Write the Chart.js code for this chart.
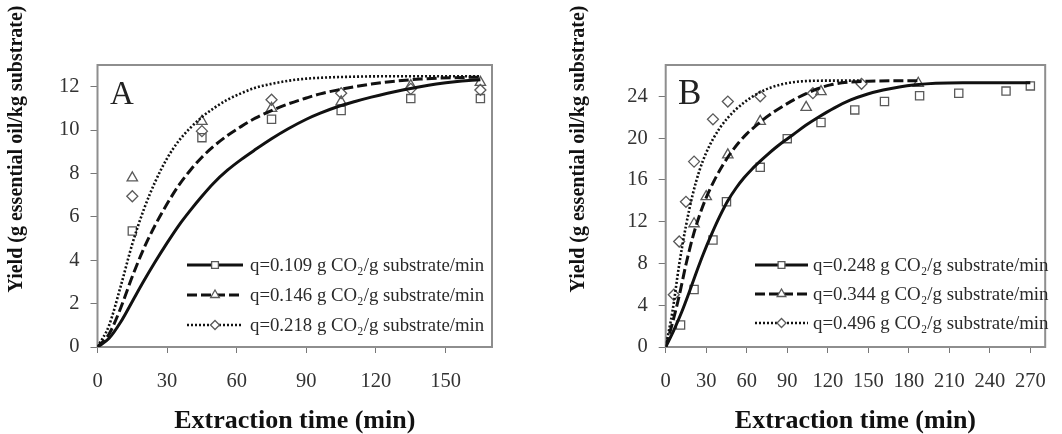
<!DOCTYPE html>
<html><head><meta charset="utf-8">
<script src="https://cdn.jsdelivr.net/npm/chart.js@4.4.0/dist/chart.umd.min.js"></script>
<style>
html,body{margin:0;padding:0;background:#fff;}
#wrap{position:relative;width:1062px;height:434px;overflow:hidden;background:#fff;}
.c{position:absolute;top:0;width:531px;height:434px;}
</style></head><body>
<div id="wrap">
<div class="c" style="left:0"><canvas id="cA" width="531" height="434"></canvas></div>
<div class="c" style="left:531px"><canvas id="cB" width="531" height="434"></canvas></div>
</div>
<script>
// ---------- Panel A data ----------
const seriesNamesA = ['q=0.109 g CO\u2082/g substrate/min', 'q=0.146 g CO\u2082/g substrate/min', 'q=0.218 g CO\u2082/g substrate/min'];
const timeA_exp = [15, 45, 75, 105, 135, 165];
const yieldA_q109 = [5.35, 9.65, 10.5, 10.9, 11.45, 11.45];
const yieldA_q146 = [7.8, 10.4, 11.0, 11.3, 12.05, 12.2];
const yieldA_q218 = [6.95, 9.95, 11.4, 11.7, 11.9, 11.85];
const timeA_model_q109 = [0, 5, 10, 15, 20, 25, 30, 35, 40, 45, 50, 56, 62, 68, 75, 82, 90, 96, 104, 111, 118, 125, 132, 139, 146, 154, 160, 165];
const modelA_q109 = [0, 0.4, 1.15, 2.1, 3.05, 3.95, 4.8, 5.6, 6.3, 6.95, 7.55, 8.15, 8.65, 9.1, 9.6, 10.05, 10.5, 10.78, 11.1, 11.32, 11.52, 11.7, 11.86, 12.0, 12.12, 12.23, 12.29, 12.32];
const timeA_model_q146 = [0, 5, 10, 15, 20, 25, 30, 35, 40, 45, 50, 56, 62, 68, 75, 82, 90, 96, 104, 111, 118, 125, 139, 152, 165];
const modelA_q146 = [0, 0.6, 1.8, 3.25, 4.55, 5.65, 6.6, 7.45, 8.15, 8.75, 9.25, 9.75, 10.17, 10.55, 10.9, 11.2, 11.48, 11.67, 11.86, 12.0, 12.12, 12.22, 12.35, 12.41, 12.44];
const timeA_model_q218 = [0, 5, 10, 15, 20, 25, 30, 35, 40, 45, 50, 56, 62, 68, 75, 82, 90, 100, 110, 125, 165];
const modelA_q218 = [0, 1.0, 2.8, 4.75, 6.35, 7.65, 8.7, 9.5, 10.1, 10.6, 11.0, 11.4, 11.7, 11.95, 12.13, 12.27, 12.37, 12.43, 12.46, 12.48, 12.48];
const xTicksA = [0, 30, 60, 90, 120, 150];
const yTicksA = [0, 2, 4, 6, 8, 10, 12];

// ---------- Panel B data ----------
const seriesNamesB = ['q=0.248 g CO\u2082/g substrate/min', 'q=0.344 g CO\u2082/g substrate/min', 'q=0.496 g CO\u2082/g substrate/min'];
const timeB_q248 = [11, 21, 35, 45, 70, 90, 115, 140, 162, 188, 217, 252, 270];
const yieldB_q248 = [2.1, 5.5, 10.25, 13.9, 17.2, 19.95, 21.5, 22.7, 23.5, 24.05, 24.3, 24.5, 25.0];
const timeB_q344 = [21, 30, 46, 70, 104, 115, 187];
const yieldB_q344 = [11.8, 14.4, 18.4, 21.6, 22.95, 24.45, 25.25];
const timeB_q496 = [6, 10, 15, 21, 35, 46, 70, 109, 145];
const yieldB_q496 = [5.0, 10.1, 13.9, 17.75, 21.8, 23.5, 24.0, 24.3, 25.2];
const timeB_model_q248 = [0, 6, 12, 17, 22, 28, 34, 40, 46, 52, 58, 64, 70, 76, 82, 88, 94, 104, 113, 125, 137, 149, 161, 173, 185, 200, 220, 270];
const modelB_q248 = [0, 1.6, 3.4, 5.1, 6.9, 8.95, 10.8, 12.5, 14.0, 15.2, 16.2, 17.05, 17.8, 18.5, 19.15, 19.75, 20.3, 21.25, 22.0, 22.9, 23.65, 24.2, 24.6, 24.9, 25.1, 25.25, 25.3, 25.3];
const timeB_model_q344 = [0, 5, 10, 15, 20, 25, 30, 36, 42, 48, 54, 60, 66, 72, 80, 88, 96, 104, 112, 122, 135, 150, 187];
const modelB_q344 = [0, 2.3, 4.9, 7.9, 10.5, 12.6, 14.3, 15.95, 17.35, 18.55, 19.55, 20.4, 21.1, 21.75, 22.5, 23.15, 23.75, 24.25, 24.7, 25.1, 25.35, 25.45, 25.5];
const timeB_model_q496 = [0, 5, 10, 15, 20, 25, 30, 35, 40, 46, 52, 58, 64, 70, 78, 86, 94, 105, 120, 145];
const modelB_q496 = [0, 3.4, 7.9, 11.6, 14.6, 16.9, 18.6, 19.9, 20.95, 21.95, 22.75, 23.4, 23.95, 24.4, 24.85, 25.15, 25.35, 25.47, 25.5, 25.5];
const xTicksB = [0, 30, 60, 90, 120, 150, 180, 210, 240, 270];
const yTicksB = [0, 4, 8, 12, 16, 20, 24];

const yTitle = 'Yield (g essential oil/kg substrate)';
const xTitle = 'Extraction time (min)';

// ---------- helpers ----------
const SERIF = "'Liberation Serif', 'Times New Roman', serif";
function pts(xs, ys) { return xs.map((x, i) => ({ x: x, y: ys[i] })); }
const lineStyles = [
  { borderDash: [], borderWidth: 3 },
  { borderDash: [10, 4], borderWidth: 3 },
  { borderDash: [2, 2], borderWidth: 2.6 }
];
const markerStyles = [
  { pointStyle: 'rect', pointRadius: 5.8 },
  { pointStyle: 'triangle', pointRadius: 6 },
  { pointStyle: 'rectRot', pointRadius: 5.5 }
];

function lineDs(label, xs, ys, k) {
  return {
    label: label, data: pts(xs, ys), showLine: true, pointRadius: 0, pointHoverRadius: 0,
    borderColor: '#111', backgroundColor: '#111', borderWidth: lineStyles[k].borderWidth,
    borderDash: lineStyles[k].borderDash, cubicInterpolationMode: 'monotone', fill: false, order: 1
  };
}
function pointDs(label, xs, ys, k) {
  return {
    label: label, data: pts(xs, ys), showLine: false,
    pointStyle: markerStyles[k].pointStyle, pointRadius: markerStyles[k].pointRadius,
    pointBorderColor: '#5a5a5a', pointBackgroundColor: 'rgba(255,255,255,0)', pointBorderWidth: 1.3,
    order: 2
  };
}

const framePlugin = {
  id: 'frame',
  beforeDatasetsDraw(chart) {
    const a = chart.chartArea, ctx = chart.ctx;
    ctx.save();
    ctx.strokeStyle = '#8e8e8e';
    ctx.lineWidth = 2;
    ctx.strokeRect(a.left, a.top, a.right - a.left, a.bottom - a.top);
    ctx.restore();
  }
};

const annotPlugin = {
  id: 'annot',
  afterDraw(chart, args, o) {
    const ctx = chart.ctx;
    ctx.save();
    ctx.fillStyle = '#111';
    ctx.font = 'bold 20px ' + SERIF;
    ctx.translate(o.yTitleX, o.yTitleY);
    ctx.rotate(-Math.PI / 2);
    ctx.textAlign = 'center';
    ctx.textBaseline = 'middle';
    ctx.fillText(o.yTitle, 0, 0);
    ctx.restore();
    ctx.save();
    ctx.fillStyle = '#222';
    ctx.font = o.letterSize + 'px ' + SERIF;
    ctx.textAlign = 'left';
    ctx.textBaseline = 'alphabetic';
    ctx.fillText(o.letter, o.letterX, o.letterY);
    ctx.restore();
    ctx.save();
    const L = o.legend;
    L.rows.forEach((y, i) => {
      const ds = chart.data.datasets[L.lines[i]];
      const pd = chart.data.datasets[L.points[i]];
      ctx.strokeStyle = '#111';
      ctx.lineWidth = ds.borderWidth;
      ctx.setLineDash(ds.borderDash || []);
      ctx.beginPath();
      ctx.moveTo(L.x0, y);
      ctx.lineTo(L.x1, y);
      ctx.stroke();
      ctx.setLineDash([]);
      ctx.fillStyle = '#fff';
      ctx.strokeStyle = '#5a5a5a';
      ctx.lineWidth = 1.3;
      Chart.helpers.drawPoint(ctx, { pointStyle: pd.pointStyle, radius: pd.pointRadius - 1, borderWidth: 1.3, rotation: 0 }, (L.x0 + L.x1) / 2, y);
      ctx.fillStyle = '#2a2a2a';
      ctx.font = L.fontSize + 'px ' + SERIF;
      ctx.textAlign = 'left';
      ctx.textBaseline = 'middle';
      ctx.fillText(L.labels[i], L.textX, y + 1);
    });
    ctx.restore();
  }
};

function makeChart(id, cfg) {
  return new Chart(document.getElementById(id), {
    type: 'scatter',
    data: { datasets: cfg.datasets },
    options: {
      responsive: false, animation: false, devicePixelRatio: 1,
      layout: { padding: { top: cfg.top, right: cfg.rightPad, left: 0, bottom: 0 } },
      plugins: { legend: { display: false }, tooltip: { enabled: false }, annot: cfg.annot },
      scales: {
        x: {
          type: 'linear', min: 0, max: cfg.xMax,
          afterBuildTicks: (s) => { s.ticks = cfg.xTicks.map(v => ({ value: v })); },
          afterFit: (s) => { s.height = 434 - cfg.bottom; },
          grid: { display: true, drawOnChartArea: false, drawTicks: true, tickLength: 6, color: '#777', lineWidth: 1 },
          border: { display: false },
          ticks: { color: '#333', font: { family: SERIF, size: 20.5 }, padding: 16, maxRotation: 0 },
          title: { display: true, text: xTitle, color: '#111', font: { family: SERIF, size: 26, weight: 'bold', lineHeight: 1 }, padding: { top: 0, bottom: 0 } }
        },
        y: {
          type: 'linear', min: 0, max: cfg.yMax,
          afterBuildTicks: (s) => { s.ticks = cfg.yTicks.map(v => ({ value: v })); },
          afterFit: (s) => { s.width = cfg.left; },
          grid: { display: true, drawOnChartArea: false, drawTicks: true, tickLength: 7, color: '#777', lineWidth: 1 },
          border: { display: false },
          ticks: { color: '#333', font: { family: SERIF, size: 20.5 }, padding: 11 }
        }
      }
    },
    plugins: [framePlugin, annotPlugin]
  });
}

makeChart('cA', {
  xMax: 170, yMax: 13, xTicks: xTicksA, yTicks: yTicksA,
  top: 65, rightPad: 531 - 492, left: 97.5, bottom: 347,
  datasets: [
    lineDs(seriesNamesA[0], timeA_model_q109, modelA_q109, 0),
    lineDs(seriesNamesA[1], timeA_model_q146, modelA_q146, 1),
    lineDs(seriesNamesA[2], timeA_model_q218, modelA_q218, 2),
    pointDs(seriesNamesA[0], timeA_exp, yieldA_q109, 0),
    pointDs(seriesNamesA[1], timeA_exp, yieldA_q146, 1),
    pointDs(seriesNamesA[2], timeA_exp, yieldA_q218, 2)
  ],
  annot: {
    yTitle: yTitle, yTitleX: 17, yTitleY: 149,
    letter: 'A', letterSize: 33, letterX: 110, letterY: 104,
    legend: { rows: [265, 295, 325], lines: [0, 1, 2], points: [3, 4, 5], x0: 187, x1: 243, textX: 250, fontSize: 18.8, labels: seriesNamesA }
  }
});

makeChart('cB', {
  xMax: 281, yMax: 27, xTicks: xTicksB, yTicks: yTicksB,
  top: 65, rightPad: 531 - (1057 - 531), left: 665.7 - 531, bottom: 347,
  datasets: [
    lineDs(seriesNamesB[0], timeB_model_q248, modelB_q248, 0),
    lineDs(seriesNamesB[1], timeB_model_q344, modelB_q344, 1),
    lineDs(seriesNamesB[2], timeB_model_q496, modelB_q496, 2),
    pointDs(seriesNamesB[0], timeB_q248, yieldB_q248, 0),
    pointDs(seriesNamesB[1], timeB_q344, yieldB_q344, 1),
    pointDs(seriesNamesB[2], timeB_q496, yieldB_q496, 2)
  ],
  annot: {
    yTitle: yTitle, yTitleX: 579 - 531, yTitleY: 149,
    letter: 'B', letterSize: 35, letterX: 678 - 531, letterY: 104,
    legend: { rows: [265, 294, 323], lines: [0, 1, 2], points: [3, 4, 5], x0: 755 - 531, x1: 808 - 531, textX: 813 - 531, fontSize: 18.9, labels: seriesNamesB }
  }
});
</script>
</body></html>
